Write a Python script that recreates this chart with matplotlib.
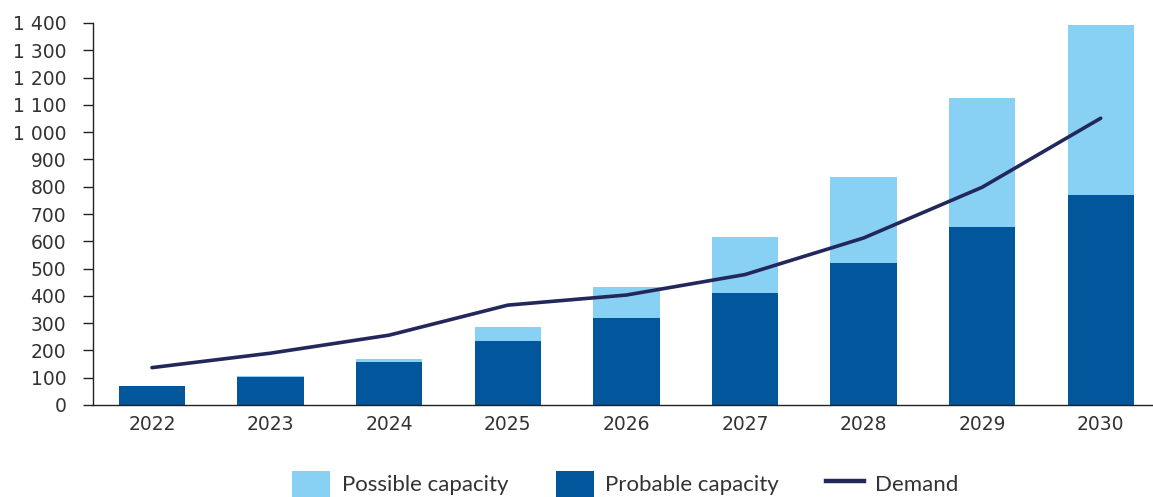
import matplotlib
matplotlib.use("Agg")
import matplotlib.pyplot as plt
from matplotlib.patches import Patch
from matplotlib.lines import Line2D
from matplotlib.ticker import FuncFormatter, MultipleLocator

years = ["2022", "2023", "2024", "2025", "2026", "2027", "2028", "2029", "2030"]
probable = [70, 104, 159, 235, 320, 412, 521, 651, 770]
possible = [0, 2, 8, 52, 113, 204, 314, 474, 622]
demand = [137, 190, 256, 366, 403, 478, 612, 798, 1051]

c_possible = "#89d1f4"
c_probable = "#02569b"
c_demand = "#22275c"

plt.rcParams["font.family"] = ["DejaVu Sans"]

fig = plt.figure(figsize=(11.53, 4.97), dpi=100)
ax = fig.add_axes([92.7 / 1153, 92 / 497, (1160 - 92.7) / 1153, (405 - 23) / 497])

x = list(range(len(years)))
ax.bar(x, probable, width=0.56, color=c_probable, zorder=2)
ax.bar(x, possible, width=0.56, bottom=probable, color=c_possible, zorder=2)
ax.plot(x, demand, color=c_demand, lw=2.6, zorder=3, solid_capstyle="round")

ax.set_xlim(-0.5, 8.5)
ax.set_ylim(0, 1400)
ax.yaxis.set_major_locator(MultipleLocator(100))
ax.yaxis.set_major_formatter(FuncFormatter(lambda v, p: f"{int(v):,}".replace(",", " ")))
ax.set_xticks(x)
ax.set_xticklabels(years)

for s in ["top", "right"]:
    ax.spines[s].set_visible(False)
for s in ["left", "bottom"]:
    ax.spines[s].set_linewidth(1.0)
    ax.spines[s].set_color("#222222")

ax.tick_params(axis="y", length=7, width=1, pad=12, labelsize=13.5, colors="#222222", labelcolor="#333333")
ax.tick_params(axis="x", length=0, pad=7, labelsize=13.5, labelcolor="#333333")

handles = [
    Patch(facecolor=c_possible, edgecolor="none"),
    Patch(facecolor=c_probable, edgecolor="none"),
    Line2D([0], [0], color=c_demand, lw=3.2),
]
labels = ["Possible capacity", "Probable capacity", "Demand"]
fig.legend(handles, labels, loc="center", bbox_to_anchor=(625.5 / 1153, 13 / 497), ncol=3,
           frameon=False, prop={"family": "Lato", "size": 16}, handlelength=1.71, handleheight=1.4,
           handletextpad=0.5, columnspacing=2.14, labelcolor="#333333")

fig.savefig("out.png", dpi=100)
